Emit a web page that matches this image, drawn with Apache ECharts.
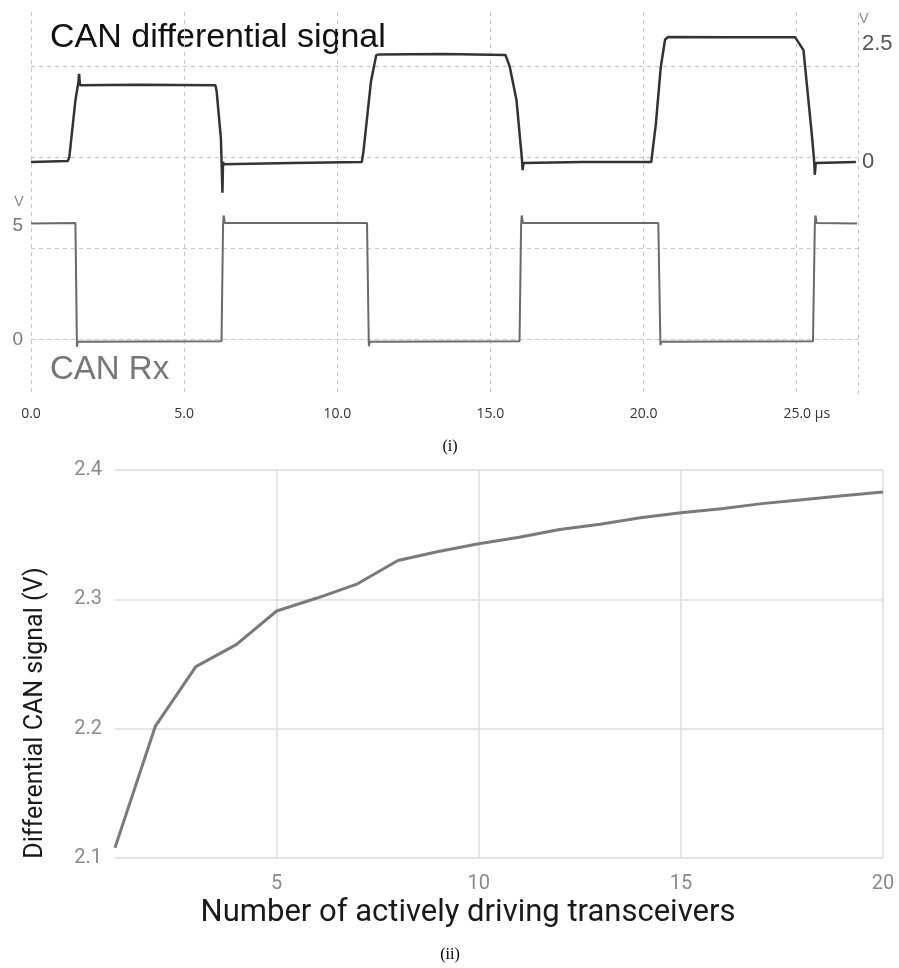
<!DOCTYPE html>
<html>
<head>
<meta charset="utf-8">
<script src="https://cdn.jsdelivr.net/npm/echarts@6/dist/echarts.min.js"></script>
<style>
html,body{margin:0;padding:0;background:#fff;}
#chart{width:899px;height:968px;}
</style>
</head>
<body>
<div id="chart"></div>
<script>
// ---- (i) oscilloscope traces ----
const timeTicks = [0, 5, 10, 15, 20, 25];
const diffTime = [0, 1.2, 1.25, 1.45, 1.55, 1.57, 1.6, 3.5, 6.02, 6.06, 6.2, 6.25, 6.27, 6.3, 8.5, 10.8, 10.85, 11.1, 11.27, 11.35, 13.5, 15.49, 15.63, 15.85, 16.03, 16.05, 16.08, 18.0, 20.25, 20.4, 20.56, 20.7, 20.8, 22.8, 24.95, 25.22, 25.38, 25.51, 25.57, 25.59, 25.62, 26.93];
const diffVolt = [0.0, 0.02, 0.1, 1.3, 1.7, 1.86, 1.62, 1.63, 1.62, 1.5, 0.5, -0.65, 0.0, -0.05, -0.02, 0.0, 0.2, 1.7, 2.25, 2.27, 2.28, 2.26, 2.01, 1.31, 0.05, -0.17, -0.02, 0.0, 0.0, 0.8, 2.0, 2.58, 2.64, 2.63, 2.63, 2.36, 1.31, 0.46, 0.0, -0.27, -0.02, 0.0];
const rxTime = [0, 1.45, 1.49, 1.5, 1.53, 6.22, 6.26, 6.27, 6.29, 6.33, 10.97, 11.0, 11.03, 11.06, 15.95, 15.98, 16.0, 16.02, 16.06, 20.48, 20.52, 20.55, 20.58, 25.53, 25.57, 25.59, 25.61, 25.65, 26.97];
const rxVolt = [5.1, 5.12, 5.1, -0.32, -0.1, -0.08, -0.05, 5.0, 5.45, 5.12, 5.12, 5.1, -0.3, -0.1, -0.08, -0.05, 5.0, 5.45, 5.12, 5.12, 5.1, -0.25, -0.1, -0.08, -0.05, 5.0, 5.45, 5.12, 5.1];
const diffLabels = [0, 2.5];
const rxLabels = [0, 5];
const rxGridValues = [0, 4, 8, 12];

// ---- (ii) differential signal vs number of transceivers ----
const transceivers = [1, 2, 3, 4, 5, 6, 7, 8, 9, 10, 11, 12, 13, 14, 15, 16, 17, 18, 19, 20];
const diffSignal = [2.108, 2.202, 2.248, 2.265, 2.291, 2.301, 2.312, 2.330, 2.337, 2.343, 2.348, 2.354, 2.358, 2.363, 2.367, 2.370, 2.374, 2.377, 2.380, 2.383];
const countTicks = [5, 10, 15, 20];
const signalTicks = [2.1, 2.2, 2.3, 2.4];

const zip = (a, b) => a.map((v, i) => [v, b[i]]);
const chart = echarts.init(document.getElementById('chart'), null, {renderer: 'canvas'});
const dashed = {color: '#c8c8c8', type: [4, 4], width: 1};

chart.setOption({
  backgroundColor: '#ffffff',
  animation: false,
  grid: [
    {left: 31, top: 12, width: 827, height: 382},
    {left: 115, top: 470, width: 768, height: 388}
  ],
  xAxis: [
    {
      type: 'value', gridIndex: 0, min: 0, max: 27,
      axisLine: {show: true, lineStyle: dashed},
      axisTick: {show: false, customValues: timeTicks},
      splitLine: {show: true, lineStyle: dashed},
      axisLabel: {
        customValues: timeTicks, margin: 13, color: '#333', fontSize: 14, fontFamily: 'Open Sans',
        formatter: v => v === 25 ? '{pad| }25.0 µs' : v.toFixed(1),
        rich: {pad: {width: 20}}
      }
    },
    {
      type: 'value', gridIndex: 1, min: 1, max: 20,
      axisLine: {show: false},
      axisTick: {show: false, customValues: countTicks},
      splitLine: {show: true, lineStyle: {color: '#dcdcdc', width: 1.5}},
      axisLabel: {customValues: countTicks, margin: 16, color: '#8a8a8a', fontSize: 20, fontFamily: 'Roboto'}
    }
  ],
  yAxis: [
    {
      type: 'value', gridIndex: 0, position: 'left', min: -2.4, max: 14.4,
      axisLine: {show: false},
      axisTick: {show: false, customValues: rxGridValues},
      splitLine: {show: true, lineStyle: dashed},
      axisLabel: {customValues: rxLabels, margin: 8, color: '#777', fontSize: 19, fontFamily: 'Liberation Sans'}
    },
    {
      type: 'value', gridIndex: 0, position: 'right', min: -4.895, max: 3.165,
      axisLine: {show: true, lineStyle: dashed},
      axisTick: {show: false},
      splitLine: {show: false},
      axisLabel: {customValues: diffLabels, margin: 4, color: '#555', fontSize: 22, fontFamily: 'Liberation Sans',
        formatter: v => v === 0 ? '0' : '2.5'}
    },
    {
      type: 'value', gridIndex: 1, min: 2.1, max: 2.4,
      axisLine: {show: false},
      axisTick: {show: false, customValues: signalTicks},
      splitLine: {show: true, lineStyle: {color: '#dcdcdc', width: 1.5}},
      axisLabel: {customValues: signalTicks, margin: 13, color: '#8a8a8a', fontSize: 20, fontFamily: 'Roboto',
        formatter: v => v.toFixed(1)}
    }
  ],
  series: [
    {
      type: 'line', xAxisIndex: 0, yAxisIndex: 1, data: zip(diffTime, diffVolt),
      showSymbol: false, symbol: 'none', lineStyle: {color: '#333', width: 2.5}
    },
    {
      type: 'line', xAxisIndex: 0, yAxisIndex: 0, data: zip(rxTime, rxVolt),
      showSymbol: false, symbol: 'none', lineStyle: {color: '#6a6a6a', width: 2}
    },
    {
      type: 'line', xAxisIndex: 1, yAxisIndex: 2, data: zip(transceivers, diffSignal),
      showSymbol: false, symbol: 'none', lineStyle: {color: '#7a7a7a', width: 3}
    }
  ],
  graphic: [
    {type: 'text', x: 50, y: 38, style: {text: 'CAN differential signal', fill: '#111', fontSize: 34, fontFamily: 'Liberation Sans', verticalAlign: 'middle'}},
    {type: 'text', x: 50, y: 370, style: {text: 'CAN Rx', fill: '#777', fontSize: 33, fontFamily: 'Liberation Sans', verticalAlign: 'middle'}},
    {type: 'text', x: 864, y: 19, style: {text: 'V', fill: '#888', fontSize: 14, fontFamily: 'Liberation Sans', align: 'center', verticalAlign: 'middle'}},
    {type: 'text', x: 19, y: 202, style: {text: 'V', fill: '#888', fontSize: 14, fontFamily: 'Liberation Sans', align: 'center', verticalAlign: 'middle'}},
    {type: 'text', x: 468, y: 913, style: {text: 'Number of actively driving transceivers', fill: '#1a1a1a', fontSize: 31, fontFamily: 'Roboto', align: 'center', verticalAlign: 'middle'}},
    {type: 'text', x: 36, y: 713, rotation: Math.PI / 2, style: {text: 'Differential CAN signal (V)', fill: '#1a1a1a', fontSize: 25, fontFamily: 'Roboto', align: 'center', verticalAlign: 'middle'}},
    {type: 'text', x: 450, y: 447, style: {text: '(i)', fill: '#000', fontSize: 16, fontFamily: 'Liberation Serif', align: 'center', verticalAlign: 'middle'}},
    {type: 'text', x: 450, y: 955, style: {text: '(ii)', fill: '#000', fontSize: 16, fontFamily: 'Liberation Serif', align: 'center', verticalAlign: 'middle'}}
  ]
});
</script>
</body>
</html>
